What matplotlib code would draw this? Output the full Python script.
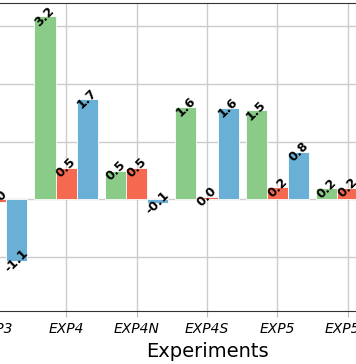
import numpy as np
from matplotlib import pyplot as plt

experiments = ['EXP3', 'EXP4', 'EXP4N', 'EXP4S', 'EXP5', 'EXP5N']
# values not visible in the cropped view are left as nan
green_vals = [np.nan, 3.17, 0.49, 1.60, 1.54, 0.19]
red_vals = [-0.04, 0.54, 0.54, 0.04, 0.21, 0.20]
blue_vals = [-1.07, 1.74, -0.07, 1.58, 0.82, np.nan]

green = '#8bcb88'
red = '#f4694f'
blue = '#6aafd6'

fig = plt.figure(figsize=(3.56, 3.64), dpi=100)
# the view is a crop: the axes run past both side edges of the figure
ax = fig.add_axes([-0.1112, 0.1456, 1.3854, 0.8462])

x = np.arange(len(experiments))
w = 0.3
for off, vals, col in [(-w, green_vals, green), (0, red_vals, red), (w, blue_vals, blue)]:
    ax.bar(x + off, vals, w, color=col, edgecolor='white', linewidth=0.6, zorder=2)
    for xi, v in zip(x + off, vals):
        if np.isnan(v):
            continue
        ax.text(xi, v, f'{v:.1f}', rotation=45, ha='center', va='center',
                fontsize=9, fontweight='bold', zorder=3)

ax.set_xticks(x)
ax.set_xticklabels(experiments, fontsize=10, style='italic')
ax.set_yticks([-1, 0, 1, 2, 3])
ax.set_xlim(-0.5, 6.5)
ax.set_ylim(-1.935, 3.40)
ax.set_xlabel('Experiments', fontsize=14)

ax.grid(True, color='#cccccc', linewidth=1, zorder=0)
ax.set_axisbelow(True)
for s in ['top', 'bottom', 'left', 'right']:
    ax.spines[s].set_color('#333333')
ax.tick_params(axis='x', length=4, color='#bbbbbb', pad=4)
ax.tick_params(axis='y', length=0)

fig.savefig('out.png', dpi=100)
